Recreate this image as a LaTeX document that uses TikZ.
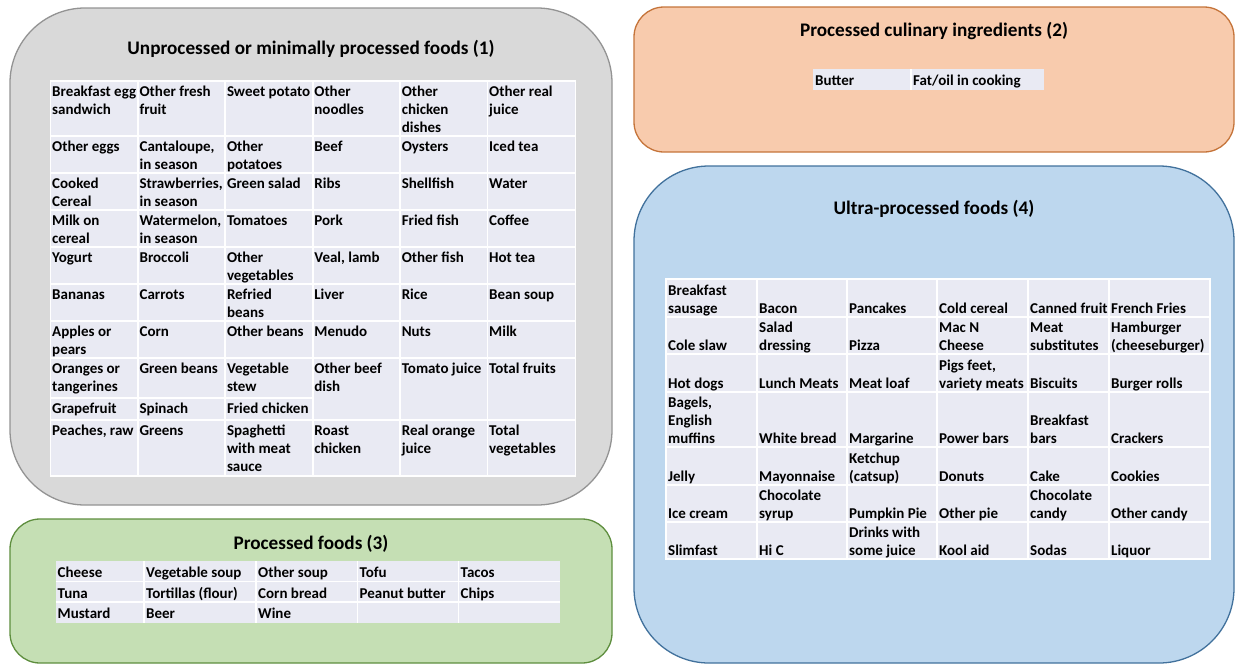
\documentclass[tikz,border=0pt]{standalone}
\usepackage{fontspec}
\setmainfont{Carlito}
\definecolor{grayfill}{HTML}{D9D9D9}
\definecolor{grayline}{HTML}{939393}
\definecolor{orangefill}{HTML}{F8CBAD}
\definecolor{orangeline}{HTML}{C5743A}
\definecolor{greenfill}{HTML}{C5DFB4}
\definecolor{greenline}{HTML}{5E8E3E}
\definecolor{bluefill}{HTML}{BDD7EE}
\definecolor{blueline}{HTML}{41719C}
\definecolor{cellbg}{HTML}{E9EAF3}
\begin{document}
\begin{tikzpicture}[
  x=1pt,y=-1pt,
  panel/.style={rounded corners=#1, line width=1.3pt},
  title/.style={inner sep=0pt, font=\fontsize{19.2}{23}\selectfont\bfseries},
  cell/.style={inner sep=0pt, align=left, font=\fontsize{15}{18}\selectfont\bfseries,
    execute at end node=\strut},
  grid/.style={white, line width=1.8pt}
]
\useasboundingbox (0,0) rectangle (1237,665);

\draw[panel=75, draw=grayline, fill=grayfill] (10,8) rectangle (612,505);
\draw[panel=30, draw=orangeline, fill=orangefill] (634,7) rectangle (1234,152);
\draw[panel=30, draw=greenline, fill=greenfill] (10,519) rectangle (612,663);
\draw[panel=75, draw=blueline, fill=bluefill] (634,166) rectangle (1234,663);

\node[title] (t1) at (311,49) {Unprocessed or minimally processed foods (1)};
\node[title] (t2) at (934,31) {Processed culinary ingredients (2)};
\node[title] (t3) at (311,544) {Processed foods (3)};
\node[title] (t4) at (934,209) {Ultra-processed foods (4)};

% minimally processed
\fill[cellbg] (50.5,80.8) rectangle (575.5,476);
\foreach \x in {137.9,225.3,312.7,400.1,487.5}
  \draw[grid] (\x,80.8) -- (\x,476);
\foreach \y in {136,173,210,247,284,321,358,420}
  \draw[grid] (50.5,\y) -- (575.5,\y);
\draw[grid] (50.5,398) -- (312.7,398);
\draw[grid] (50.5,80.8) rectangle (575.5,476);
\foreach \y/\r/\row in {
  80.8/1/{{Breakfast egg\\sandwich},{Other fresh\\fruit},{Sweet potato},{Other\\noodles},{Other\\chicken\\dishes},{Other real\\juice}},
  136/2/{{Other eggs},{Cantaloupe,\\in season},{Other\\potatoes},{Beef},{Oysters},{Iced tea}},
  173/3/{{Cooked\\Cereal},{Strawberries,\\in season},{Green salad},{Ribs},{Shellfish},{Water}},
  210/4/{{Milk on\\cereal},{Watermelon,\\in season},{Tomatoes},{Pork},{Fried fish},{Coffee}},
  247/5/{{Yogurt},{Broccoli},{Other\\vegetables},{Veal, lamb},{Other fish},{Hot tea}},
  284/6/{{Bananas},{Carrots},{Refried\\beans},{Liver},{Rice},{Bean soup}},
  321/7/{{Apples or\\pears},{Corn},{Other beans},{Menudo},{Nuts},{Milk}},
  358/8/{{Oranges or\\tangerines},{Green beans},{Vegetable\\stew},{Other beef\\dish},{Tomato juice},{Total fruits}},
  398/9/{{Grapefruit},{Spinach},{Fried chicken}},
  420/10/{{Peaches, raw},{Greens},{Spaghetti\\with meat\\sauce},{Roast\\chicken},{Real orange\\juice},{Total\\vegetables}}}
  \foreach \t [count=\c] in \row
    \node[cell, anchor=north west] (u\r-\c) at ({52+87.4*(\c-1)},\y+2.6) {\strut\t};

% culinary ingredients
\fill[cellbg] (813,69) rectangle (1044,89.5);
\draw[grid] (911,69) -- (911,89.5);
\node[cell, anchor=north west] (c1) at (815,72.4) {\strut Butter};
\node[cell, anchor=north west] (c2) at (913,72.4) {\strut Fat/oil in cooking};

% processed
\fill[cellbg] (55.5,561) rectangle (560,622.5);
\foreach \x in {144,256,357.5,458.5}
  \draw[grid] (\x,561) -- (\x,622.5);
\foreach \y in {581.5,602}
  \draw[grid] (55.5,\y) -- (560,\y);
\foreach \y/\r/\row in {
  561/1/{{Cheese},{Vegetable soup},{Other soup},{Tofu},{Tacos}},
  581.5/2/{{Tuna},{Tortillas (flour)},{Corn bread},{Peanut butter},{Chips}},
  602/3/{{Mustard},{Beer},{Wine}}}
  \foreach \t [count=\c] in \row {
    \pgfmathsetmacro\xx{{55.5,144,256,357.5,458.5}[\c-1]}
    \node[cell, anchor=north west] (p\r-\c) at (\xx+2,\y+3.9) {\strut\t};
  }

% ultra-processed
\fill[cellbg] (666,279) rectangle (1210,559);
\foreach \x in {757,847,937,1028,1109}
  \draw[grid] (\x,279) -- (\x,559);
\foreach \y in {317,354,392,447,485,522}
  \draw[grid] (666,\y) -- (1210,\y);
\draw[grid] (666,279) rectangle (1210,559);
\foreach \y/\r/\row in {
  317/1/{{Breakfast\\sausage},{Bacon},{Pancakes},{Cold cereal},{Canned fruit},{French Fries}},
  354/2/{{Cole slaw},{Salad\\dressing},{Pizza},{Mac N\\Cheese},{Meat\\substitutes},{Hamburger\\(cheeseburger)}},
  392/3/{{Hot dogs},{Lunch Meats},{Meat loaf},{Pigs feet,\\variety meats},{Biscuits},{Burger rolls}},
  447/4/{{Bagels,\\English\\muffins},{White bread},{Margarine},{Power bars},{Breakfast\\bars},{Crackers}},
  485/5/{{Jelly},{Mayonnaise},{Ketchup\\(catsup)},{Donuts},{Cake},{Cookies}},
  522/6/{{Ice cream},{Chocolate\\syrup},{Pumpkin Pie},{Other pie},{Chocolate\\candy},{Other candy}},
  559/7/{{Slimfast},{Hi C},{Drinks with\\some juice},{Kool aid},{Sodas},{Liquor}}}
  \foreach \t [count=\c] in \row {
    \pgfmathsetmacro\xx{{666,757,847,937,1028,1109}[\c-1]}
    \node[cell, anchor=south west] (x\r-\c) at (\xx+2,\y+1.8) {\t};
  }
\end{tikzpicture}
\end{document}
